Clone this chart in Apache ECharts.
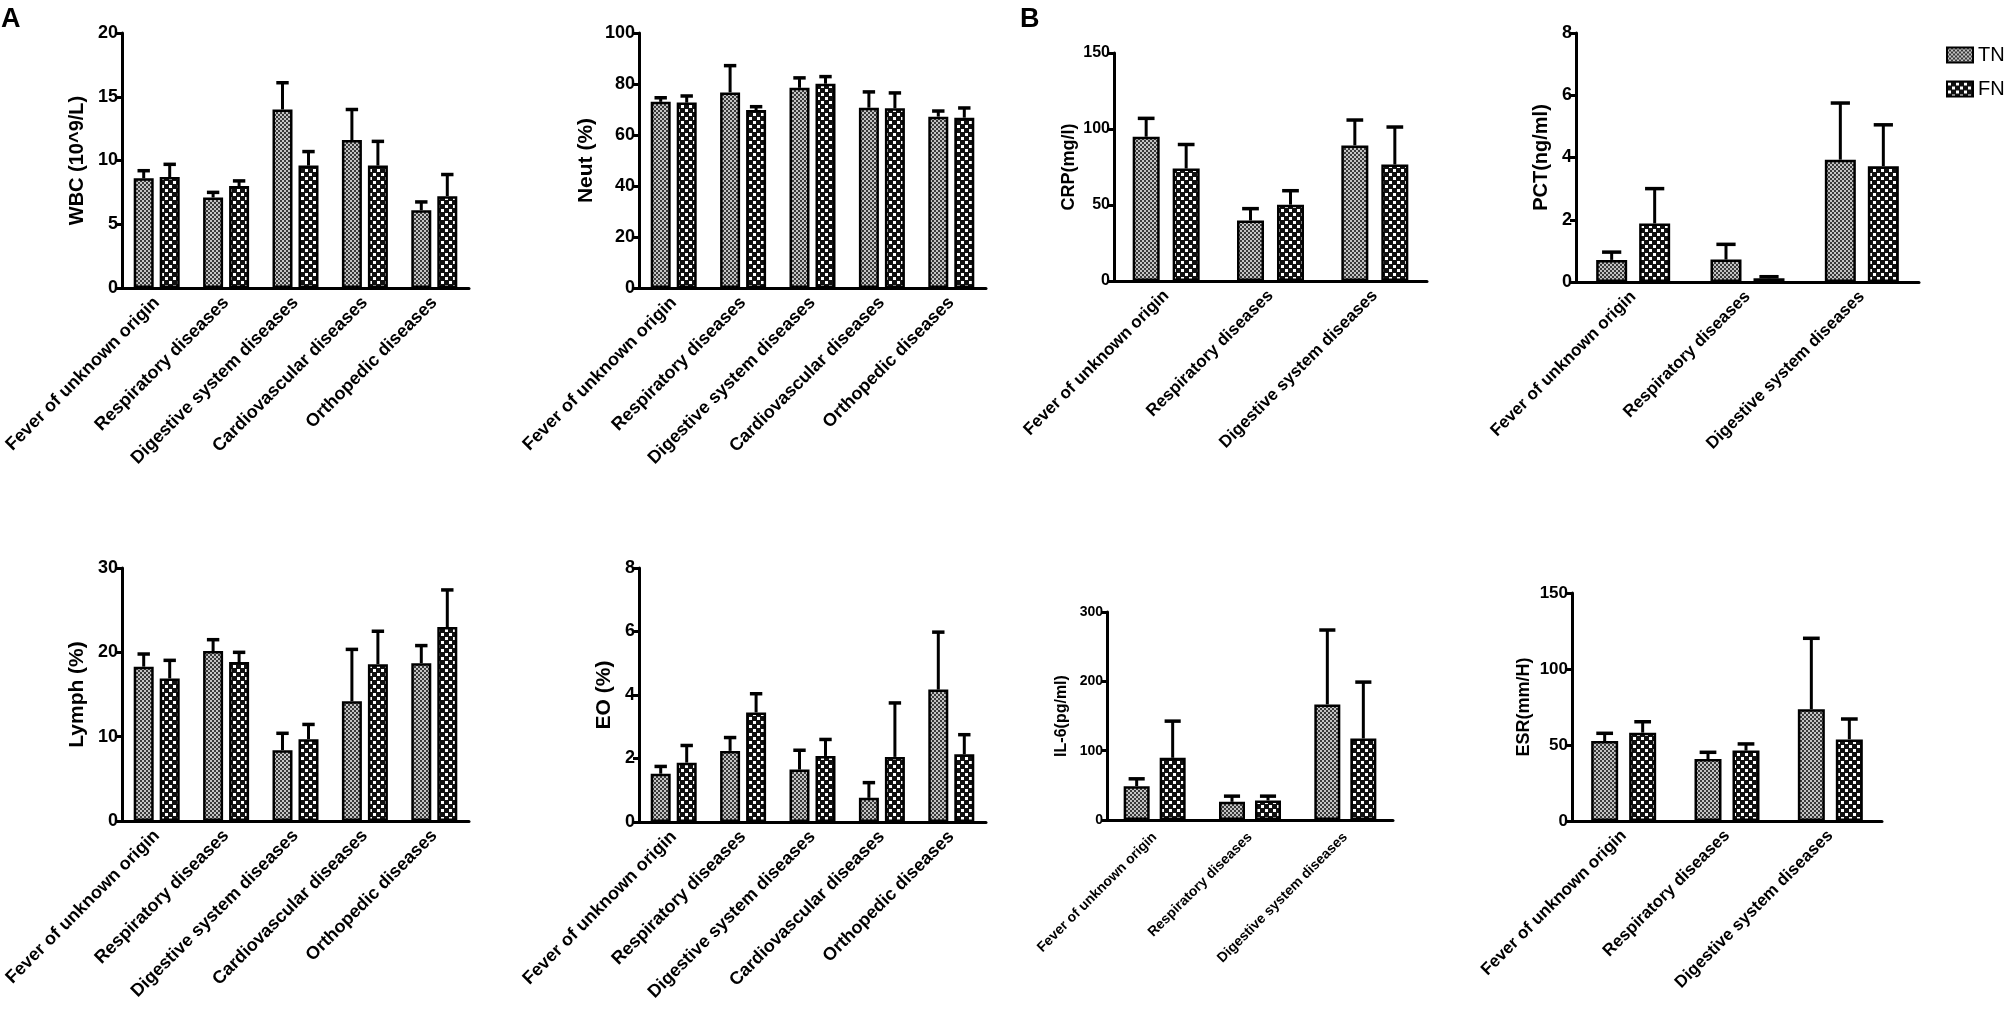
<!DOCTYPE html>
<html>
<head>
<meta charset="utf-8">
<script src="https://cdn.jsdelivr.net/npm/echarts@6/dist/echarts.min.js"></script>
<style>
  html, body { margin: 0; padding: 0; background: #fff; }
  #chart { width: 2008px; height: 1024px; }
</style>
</head>
<body>
<div id="chart"></div>
<script>
// categories
var catsA = ['Fever of unknown origin', 'Respiratory diseases', 'Digestive system diseases', 'Cardiovascular diseases', 'Orthopedic diseases'];
var catsB = ['Fever of unknown origin', 'Respiratory diseases', 'Digestive system diseases'];

// means and SD (upper error bar only)
var wbcTN = [8.6, 7.1, 14.0, 11.6, 6.1];
var wbcTNsd = [0.6, 0.4, 2.1, 2.4, 0.65];
var wbcFN = [8.7, 8.0, 9.6, 9.6, 7.2];
var wbcFNsd = [1.0, 0.4, 1.1, 1.9, 1.7];

var neutTN = [73.0, 76.7, 78.5, 70.7, 67.2];
var neutTNsd = [1.6, 10.5, 3.9, 6.2, 2.2];
var neutFN = [72.7, 69.8, 80.1, 70.5, 66.8];
var neutFNsd = [2.6, 1.3, 2.8, 6.0, 3.8];

var lymphTN = [18.3, 20.15, 8.4, 14.2, 18.7];
var lymphTNsd = [1.5, 1.35, 2.0, 6.15, 2.1];
var lymphFN = [16.9, 18.85, 9.7, 18.6, 23.0];
var lymphFNsd = [2.15, 1.15, 1.75, 3.9, 4.4];

var eoTN = [1.52, 2.24, 1.65, 0.76, 4.17];
var eoTNsd = [0.23, 0.42, 0.61, 0.48, 1.81];
var eoFN = [1.87, 3.45, 2.08, 2.05, 2.13];
var eoFNsd = [0.54, 0.59, 0.52, 1.7, 0.62];

var crpTN = [94.9, 39.8, 89.2];
var crpTNsd = [12.1, 7.8, 16.7];
var crpFN = [74.0, 50.2, 76.6];
var crpFNsd = [15.8, 9.2, 24.7];

var pctTN = [0.71, 0.72, 3.93];
var pctTNsd = [0.25, 0.49, 1.82];
var pctFN = [1.88, 0.12, 3.72];
var pctFNsd = [1.12, 0.05, 1.33];

var il6TN = [48.8, 26.2, 166.7];
var il6TNsd = [10.6, 8.2, 107.3];
var il6FN = [89.7, 28.1, 117.6];
var il6FNsd = [52.9, 6.3, 81.3];

var esrTN = [52.6, 40.8, 73.5];
var esrTNsd = [5.1, 4.4, 46.7];
var esrFN = [58.1, 46.3, 53.7];
var esrFNsd = [7.2, 4.4, 13.4];

// axis ranges [min, max, step]
var wbcTicks = [0, 20, 5];
var neutTicks = [0, 100, 20];
var lymphTicks = [0, 30, 10];
var eoTicks = [0, 8, 2];
var crpTicks = [0, 150, 50];
var pctTicks = [0, 8, 2];
var il6Ticks = [0, 300, 100];
var esrTicks = [0, 150, 50];

var FONT = '"Liberation Sans", Arial, sans-serif';

// bar fill patterns
function makePattern(kind) {
  var c = document.createElement('canvas');
  var g;
  if (kind === 'TN') {
    c.width = 4; c.height = 4;
    g = c.getContext('2d');
    g.fillStyle = '#c4c4c4'; g.fillRect(0, 0, 4, 4);
    g.fillStyle = '#3a3a3a'; g.fillRect(0, 0, 2, 2); g.fillRect(2, 2, 2, 2);
  } else {
    c.width = 8; c.height = 8;
    g = c.getContext('2d');
    g.fillStyle = '#111'; g.fillRect(0, 0, 8, 8);
    g.fillStyle = '#fff'; g.fillRect(1, 1, 3, 3); g.fillRect(5, 5, 3, 3);
  }
  return { image: c, repeat: 'repeat' };
}
var patTN = makePattern('TN');
var patFN = makePattern('FN');

// layout of the eight panels: box = [left, top, width, height]
var panels = [
  { cats: catsA, tn: wbcTN, tnSd: wbcTNsd, fn: wbcFN, fnSd: wbcFNsd, ticks: wbcTicks, name: 'WBC (10^9/L)',
    box: [122, 33, 347, 255], bw: 20, gap: 6, lab: 18, labGap: 12, tick: 18, title: 20, nameGap: 35 },
  { cats: catsA, tn: neutTN, tnSd: neutTNsd, fn: neutFN, fnSd: neutFNsd, ticks: neutTicks, name: 'Neut (%)',
    box: [639, 33, 347, 255], bw: 20, gap: 6, lab: 18, labGap: 12, tick: 18, title: 21, nameGap: 42 },
  { cats: catsB, tn: crpTN, tnSd: crpTNsd, fn: crpFN, fnSd: crpFNsd, ticks: crpTicks, name: 'CRP(mg/l)',
    box: [1114, 53, 313, 228], bw: 27, gap: 13, lab: 17, labGap: 12, tick: 16, title: 18, nameGap: 36 },
  { cats: catsB, tn: pctTN, tnSd: pctTNsd, fn: pctFN, fnSd: pctFNsd, ticks: pctTicks, name: 'PCT(ng/ml)',
    box: [1576, 33, 343, 249], bw: 31, gap: 12, lab: 17, labGap: 12, tick: 18, title: 20, nameGap: 25 },
  { cats: catsA, tn: lymphTN, tnSd: lymphTNsd, fn: lymphFN, fnSd: lymphFNsd, ticks: lymphTicks, name: 'Lymph (%)',
    box: [122, 568, 347, 253], bw: 20, gap: 6, lab: 18, labGap: 12, tick: 18, title: 21, nameGap: 34 },
  { cats: catsA, tn: eoTN, tnSd: eoTNsd, fn: eoFN, fnSd: eoFNsd, ticks: eoTicks, name: 'EO (%)',
    box: [639, 568, 347, 254], bw: 20, gap: 6, lab: 18, labGap: 12, tick: 18, title: 21, nameGap: 24 },
  { cats: catsB, tn: il6TN, tnSd: il6TNsd, fn: il6FN, fnSd: il6FNsd, ticks: il6Ticks, name: 'IL-6(pg/ml)',
    box: [1107, 612, 286, 208], bw: 26, gap: 10, lab: 14, labGap: 15, tick: 14, title: 16, nameGap: 37 },
  { cats: catsB, tn: esrTN, tnSd: esrTNsd, fn: esrFN, fnSd: esrFNsd, ticks: esrTicks, name: 'ESR(mm/H)',
    box: [1572, 593, 310, 228], bw: 27, gap: 11, lab: 17, labGap: 12, tick: 17, title: 18, nameGap: 39 }
];

// upper error bar drawn beside its bar
function errRender(bw, gap, side) {
  return function (params, api) {
    var idx = api.value(0);
    var p0 = api.coord([idx, api.value(1)]);
    var p1 = api.coord([idx, api.value(2)]);
    var x = p0[0] + side * (bw + gap) / 2;
    var cap = bw * 0.62;
    return {
      type: 'group',
      children: [
        { type: 'line', shape: { x1: x, y1: p0[1], x2: x, y2: p1[1] }, style: { stroke: '#000', lineWidth: 3 } },
        { type: 'line', shape: { x1: x - cap / 2, y1: p1[1], x2: x + cap / 2, y2: p1[1] }, style: { stroke: '#000', lineWidth: 3.5 } }
      ]
    };
  };
}

function errData(mean, sd) {
  return mean.map(function (m, i) { return [i, m, m + sd[i]]; });
}

var grid = [], xAxis = [], yAxis = [], series = [];

panels.forEach(function (p, i) {
  grid.push({ left: p.box[0], top: p.box[1], width: p.box[2], height: p.box[3], containLabel: false, outerBoundsMode: 'none' });
  xAxis.push({
    type: 'category', gridIndex: i, data: p.cats,
    axisLine: { lineStyle: { color: '#000', width: 3 } },
    axisTick: { alignWithLabel: true, length: 6, lineStyle: { color: '#000', width: 3 } },
    axisLabel: { rotate: 45, margin: p.labGap, interval: 0, fontSize: p.lab, fontWeight: 'bold', color: '#000', fontFamily: FONT }
  });
  yAxis.push({
    type: 'value', gridIndex: i, min: p.ticks[0], max: p.ticks[1], interval: p.ticks[2],
    name: p.name, nameLocation: 'middle', nameRotate: 90, nameGap: p.nameGap,
    nameTextStyle: { fontSize: p.title, fontWeight: 'bold', color: '#000', fontFamily: FONT },
    axisLine: { show: true, lineStyle: { color: '#000', width: 3 } },
    axisTick: { show: true, length: 6, lineStyle: { color: '#000', width: 3 } },
    splitLine: { show: false },
    axisLabel: { margin: 4, fontSize: p.tick, fontWeight: 'bold', color: '#000', fontFamily: FONT }
  });
  var barGap = (p.gap / p.bw * 100).toFixed(1) + '%';
  series.push({
    type: 'bar', name: 'TN', xAxisIndex: i, yAxisIndex: i, data: p.tn,
    barWidth: p.bw, barGap: barGap, silent: true,
    itemStyle: { color: patTN, borderColor: '#000', borderWidth: 2.5 }
  });
  series.push({
    type: 'bar', name: 'FN', xAxisIndex: i, yAxisIndex: i, data: p.fn,
    barWidth: p.bw, barGap: barGap, silent: true,
    itemStyle: { color: patFN, borderColor: '#000', borderWidth: 2.5 }
  });
  series.push({
    type: 'custom', name: 'errTN' + i, xAxisIndex: i, yAxisIndex: i, silent: true,
    renderItem: errRender(p.bw, p.gap, -1), encode: { x: 0, y: 2 }, data: errData(p.tn, p.tnSd)
  });
  series.push({
    type: 'custom', name: 'errFN' + i, xAxisIndex: i, yAxisIndex: i, silent: true,
    renderItem: errRender(p.bw, p.gap, 1), encode: { x: 0, y: 2 }, data: errData(p.fn, p.fnSd)
  });
});

var chart = echarts.init(document.getElementById('chart'), null, { renderer: 'canvas' });
chart.setOption({
  animation: false,
  backgroundColor: '#fff',
  grid: grid,
  xAxis: xAxis,
  yAxis: yAxis,
  series: series,
  legend: {
    data: ['TN', 'FN'], orient: 'vertical', left: 1941, top: 40,
    icon: 'rect', itemWidth: 26, itemHeight: 15, itemGap: 14,
    textStyle: { fontSize: 20, color: '#000', fontFamily: FONT },
    selectedMode: false
  },
  graphic: [
    { type: 'text', left: 1, top: 6, style: { text: 'A', font: 'bold 27px ' + FONT, fill: '#000' } },
    { type: 'text', left: 1020, top: 6, style: { text: 'B', font: 'bold 27px ' + FONT, fill: '#000' } }
  ]
});
</script>
</body>
</html>
